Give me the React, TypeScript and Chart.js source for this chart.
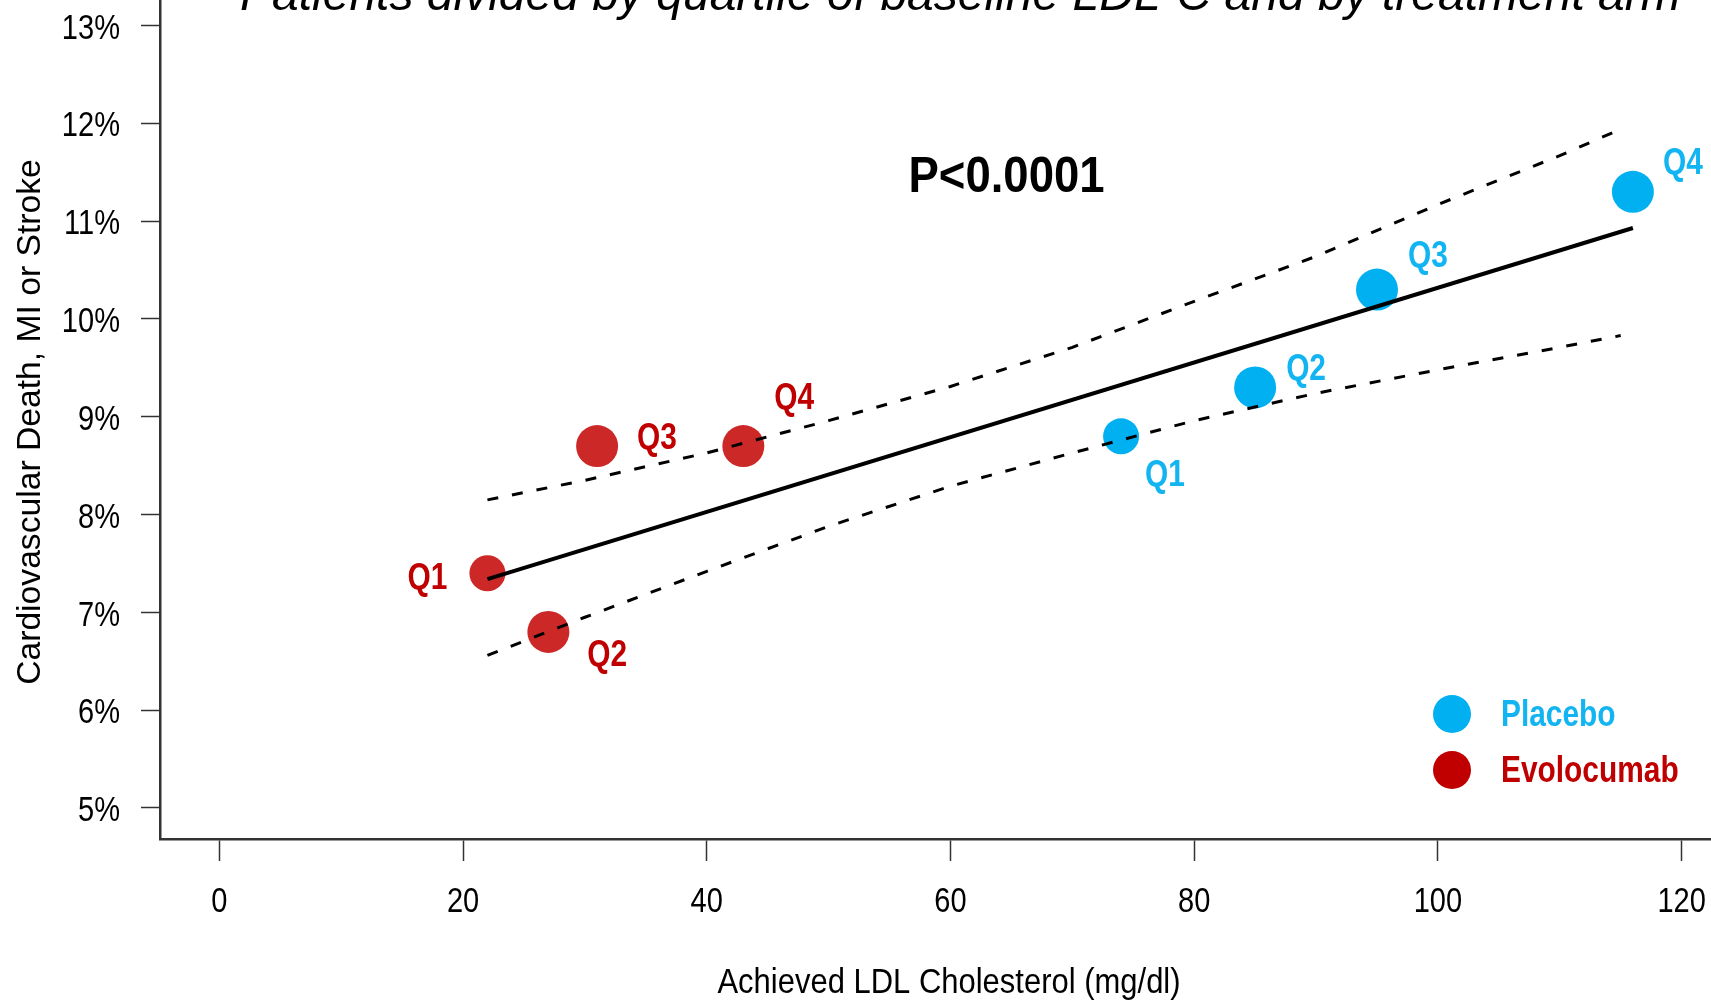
import React, { useEffect, useRef } from 'react';
import { Chart, registerables } from 'chart.js';

Chart.register(...registerables);

// ---------- data ----------
const QUARTILES = ['Q1', 'Q2', 'Q3', 'Q4'];
const EVO_LABEL = 'Evolocumab';
const EVO_LDL = [22, 27, 31, 43];
const EVO_RATE = [7.4, 6.8, 8.7, 8.7];
const PBO_LABEL = 'Placebo';
const PBO_LDL = [74, 85, 95, 116];
const PBO_RATE = [8.8, 9.3, 10.3, 11.3];
const FIT_LDL = [22, 116];
const FIT_RATE = [7.34, 10.93];
const BAND_LDL = [22, 30, 40, 50, 60, 70, 80, 90, 100, 110, 115];
const BAND_UPPER = [8.15, 8.35, 8.63, 8.96, 9.31, 9.71, 10.18, 10.64, 11.17, 11.67, 11.94];
const BAND_LOWER = [6.56, 6.95, 7.42, 7.88, 8.29, 8.63, 8.96, 9.24, 9.48, 9.71, 9.83];
const X_TICKS = [0, 20, 40, 60, 80, 100, 120];
const Y_TICKS = [5, 6, 7, 8, 9, 10, 11, 12, 13];
const X_RANGE = [-4.87, 122.41];
const Y_RANGE = [4.683, 13.261];
const P_TEXT = 'P<0.0001';
const P_AT = [64.6, 11.44];
const TITLE = 'Patients divided by quartile of baseline LDL-C and by treatment arm';
const X_TITLE = 'Achieved LDL Cholesterol (mg/dl)';
const Y_TITLE = 'Cardiovascular Death, MI or Stroke';

// ---------- style ----------
const W = 1711;
const H = 1002;
const SANS = '"Liberation Sans", Arial, sans-serif';
const NARROW_X = 0.83;
const RED_PT = '#cc2828';
const RED_TXT = '#c00000';
const BLUE = '#00b0f0';
const BLUE_TXT = '#12b4f2';
const AXIS = '#333333';
const RADII = [18, 21, 21, 21];
const EVO_OFFS = [
  { dx: -40, dy: 5.5, align: 'right' },
  { dx: 39, dy: 24, align: 'left' },
  { dx: 40, dy: -7.5, align: 'left' },
  { dx: 31, dy: -47, align: 'left' },
];
const PBO_OFFS = [
  { dx: 24, dy: 39.5, align: 'left' },
  { dx: 31, dy: -17.5, align: 'left' },
  { dx: 31, dy: -33, align: 'left' },
  { dx: 30, dy: -28, align: 'left' },
];

const pts = (xs: number[], ys: number[]) => xs.map((x, i) => ({ x, y: ys[i] }));

function text(
  ctx: CanvasRenderingContext2D,
  s: string,
  x: number,
  y: number,
  font: string,
  color: string,
  align: CanvasTextAlign,
  sx = 1,
  baseline: CanvasTextBaseline = 'middle',
  rot = 0,
) {
  ctx.save();
  ctx.translate(x, y);
  if (rot) ctx.rotate(rot);
  ctx.scale(sx, 1);
  ctx.font = font;
  ctx.fillStyle = color;
  ctx.textAlign = align;
  ctx.textBaseline = baseline;
  ctx.fillText(s, 0, 0);
  ctx.restore();
}

const annotate = {
  id: 'annotate',
  afterDatasetsDraw(chart: any) {
    const { ctx, scales } = chart;
    const xs = scales.x;
    const ys = scales.y;
    // tick labels (positions from the chart scales)
    xs.ticks.forEach((t: any) => {
      text(ctx, String(t.value), xs.getPixelForValue(t.value), 902, `35px ${SANS}`, '#000', 'center', NARROW_X);
    });
    ys.ticks.forEach((t: any) => {
      text(ctx, `${t.value}%`, 120, ys.getPixelForValue(t.value) + 3.5, `35px ${SANS}`, '#000', 'right', NARROW_X);
    });
    // point labels
    const groups: [number, any[], string][] = [
      [0, EVO_OFFS, RED_TXT],
      [1, PBO_OFFS, BLUE_TXT],
    ];
    groups.forEach(([di, offs, color]) => {
      const meta = chart.getDatasetMeta(di);
      meta.data.forEach((el: any, i: number) => {
        const o = offs[i];
        text(ctx, QUARTILES[i], el.x + o.dx, el.y + o.dy, `bold 36px ${SANS}`, color, o.align, NARROW_X);
      });
    });
    // p value
    text(ctx, P_TEXT, xs.getPixelForValue(P_AT[0]), ys.getPixelForValue(P_AT[1]), `bold 50px ${SANS}`, '#000', 'center', 0.91);
    // legend
    const lx = 1452;
    const items: [string, string, string, number][] = [
      [PBO_LABEL, BLUE, BLUE_TXT, 714],
      [EVO_LABEL, RED_TXT, RED_TXT, 770],
    ];
    items.forEach(([label, c, tc, yy]) => {
      ctx.save();
      ctx.fillStyle = c;
      ctx.beginPath();
      ctx.arc(lx, yy, 19, 0, Math.PI * 2);
      ctx.fill();
      ctx.restore();
      text(ctx, label, lx + 49, yy + 2.5, `bold 36px ${SANS}`, tc, 'left', NARROW_X);
    });
    // titles
    text(ctx, TITLE, 240, 10, `italic 48px ${SANS}`, '#000', 'left', 1, 'alphabetic');
    text(ctx, X_TITLE, 949, 983, `35px ${SANS}`, '#000', 'center', 0.885);
    text(ctx, Y_TITLE, 31, 422, `34px ${SANS}`, '#000', 'center', 0.99, 'middle', -Math.PI / 2);
  },
};

const zeroPad = (s: any) => {
  s.paddingTop = 0;
  s.paddingBottom = 0;
  s.paddingLeft = 0;
  s.paddingRight = 0;
};

export default function App() {
  const ref = useRef<HTMLCanvasElement>(null);
  useEffect(() => {
    if (!ref.current) return;
    const chart = new Chart(ref.current, {
      type: 'scatter',
      data: {
        datasets: [
          {
            label: EVO_LABEL,
            data: pts(EVO_LDL, EVO_RATE),
            backgroundColor: RED_PT,
            borderWidth: 0,
            pointRadius: RADII,
            order: 2,
          },
          {
            label: PBO_LABEL,
            data: pts(PBO_LDL, PBO_RATE),
            backgroundColor: BLUE,
            borderWidth: 0,
            pointRadius: RADII,
            order: 2,
          },
          {
            label: 'fit',
            data: pts(FIT_LDL, FIT_RATE),
            showLine: true,
            borderColor: '#000',
            borderWidth: 4,
            pointRadius: 0,
            order: 0,
          },
          {
            label: 'upper',
            data: pts(BAND_LDL, BAND_UPPER),
            showLine: true,
            borderColor: '#000',
            borderWidth: 3,
            borderDash: [11, 14],
            pointRadius: 0,
            order: 0,
          },
          {
            label: 'lower',
            data: pts(BAND_LDL, BAND_LOWER),
            showLine: true,
            borderColor: '#000',
            borderWidth: 3,
            borderDash: [11, 14],
            pointRadius: 0,
            order: 0,
          },
        ],
      } as any,
      options: {
        responsive: false,
        animation: false,
        devicePixelRatio: 1,
        layout: { padding: 0, autoPadding: false },
        plugins: { legend: { display: false }, tooltip: { enabled: false } },
        scales: {
          x: {
            type: 'linear',
            min: X_RANGE[0],
            max: X_RANGE[1],
            afterBuildTicks: (s: any) => {
              s.ticks = X_TICKS.map((v) => ({ value: v }));
            },
            afterFit: (s: any) => {
              s.height = 163;
              zeroPad(s);
            },
            border: { display: true, color: AXIS, width: 2.5 },
            grid: {
              drawOnChartArea: false,
              drawTicks: true,
              tickLength: 22,
              tickColor: AXIS,
              tickWidth: 1.5,
            },
            ticks: { display: false, autoSkip: false },
          },
          y: {
            type: 'linear',
            min: Y_RANGE[0],
            max: Y_RANGE[1],
            afterBuildTicks: (s: any) => {
              s.ticks = Y_TICKS.map((v) => ({ value: v }));
            },
            afterFit: (s: any) => {
              s.width = 160;
              zeroPad(s);
            },
            border: { display: true, color: AXIS, width: 2.5 },
            grid: {
              drawOnChartArea: false,
              drawTicks: true,
              tickLength: 19,
              tickColor: AXIS,
              tickWidth: 1.5,
            },
            ticks: { display: false, autoSkip: false },
          },
        },
      } as any,
      plugins: [annotate],
    });
    return () => chart.destroy();
  }, []);
  return (
    <div style={{ position: 'absolute', left: 0, top: 0, width: W, height: H, background: '#fff' }}>
      <canvas ref={ref} width={W} height={H} style={{ display: 'block', width: W, height: H }} />
    </div>
  );
}
